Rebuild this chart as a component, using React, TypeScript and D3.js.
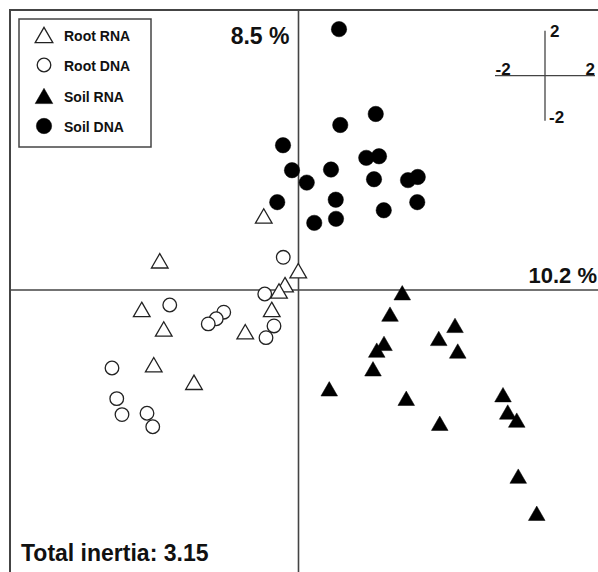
import React from "react";
import * as d3 from "d3";

const groups = ["Root RNA", "Root DNA", "Soil RNA", "Soil DNA"];

const rootRNA: [number, number][] = [
  [-1.39, 3.29], [-5.55, 1.3], [-0.01, 0.86], [-0.54, 0.24], [-0.78, -0.04],
  [-1.07, -0.86], [-6.27, -0.86], [-5.39, -1.73], [-2.13, -1.85], [-5.79, -3.32],
  [-4.18, -4.1],
];
const rootDNA: [number, number][] = [
  [-0.61, 1.45], [-1.35, -0.18], [-5.15, -0.67], [-2.99, -0.99], [-3.29, -1.28],
  [-3.61, -1.51], [-0.98, -1.6], [-1.3, -2.12], [-7.46, -3.47], [-7.27, -4.83],
  [-7.06, -5.54], [-6.06, -5.48], [-5.83, -6.08],
];
const soilRNA: [number, number][] = [
  [4.15, -0.12], [3.66, -1.07], [3.42, -2.37], [3.13, -2.67], [2.98, -3.5],
  [1.23, -4.39], [4.31, -4.81], [5.61, -2.15], [6.26, -1.57], [6.37, -2.71],
  [5.65, -5.92], [8.18, -4.65], [8.37, -5.42], [8.73, -5.78], [8.79, -8.27],
  [9.53, -9.92],
];
const soilDNA: [number, number][] = [
  [1.62, 11.59], [3.09, 7.82], [1.67, 7.33], [-0.62, 6.43], [2.71, 5.87],
  [3.22, 5.94], [-0.26, 5.32], [0.33, 4.77], [1.3, 5.35], [3.02, 4.92],
  [4.38, 4.88], [4.77, 5.02], [1.49, 4.01], [-0.85, 3.9], [3.41, 3.54],
  [4.75, 3.9], [0.63, 2.98], [1.5, 3.16],
];

const axis1Label = "10.2 %";
const axis2Label = "8.5 %";
const inertiaLabel = "Total inertia: 3.15";
const scaleTicks = ["2", "-2", "2", "-2"];

const W = 598;
const H = 572;
const FONT = "'Liberation Sans', Arial, sans-serif";

export default function App() {
  const x = d3.scaleLinear().domain([-11.54, 12.26]).range([10, 605]);
  const y = d3.scaleLinear().domain([12.44, -12.89]).range([10, 580]);

  const triPath = d3.symbol().type(d3.symbolTriangle).size(120)() as string;
  const triLegend = d3.symbol().type(d3.symbolTriangle).size(135)() as string;
  const triOff = 2.5;

  // scale bar (2 units each way)
  const sbx = d3.scaleLinear().domain([-2, 2]).range([495, 595]);
  const sby = d3.scaleLinear().domain([2, -2]).range([30.7, 120.7]);

  const styles = [
    { data: rootRNA, kind: "tri", fill: "white" },
    { data: rootDNA, kind: "circ", fill: "white" },
    { data: soilRNA, kind: "tri", fill: "black" },
    { data: soilDNA, kind: "circ", fill: "black" },
  ];

  const drawMark = (kind: string, fill: string, cx: number, cy: number, key: string, legend = false) => {
    if (kind === "tri") {
      return (
        <path
          key={key}
          d={legend ? triLegend : triPath}
          transform={`translate(${cx},${cy + triOff})`}
          fill={fill}
          stroke={fill === "white" ? "#222" : "black"}
          strokeWidth={fill === "white" ? 1.3 : 0.5}
          strokeLinejoin="miter"
        />
      );
    }
    return (
      <circle
        key={key}
        cx={cx}
        cy={cy}
        r={fill === "white" ? 6.8 : 7.7}
        fill={fill}
        stroke={fill === "white" ? "#222" : "black"}
        strokeWidth={fill === "white" ? 1.3 : 0.5}
      />
    );
  };

  const legendRows = [35, 65, 96, 126];

  return (
    <svg
      width={W}
      height={H}
      style={{ position: "absolute", left: 0, top: 0, background: "white" }}
      fontFamily={FONT}
    >
      {/* frame */}
      <rect x={10} y={10} width={620} height={600} fill="white" stroke="#444" strokeWidth={2} />
      {/* axes */}
      <line x1={x(0)} x2={x(0)} y1={10} y2={H} stroke="#444" strokeWidth={1.6} />
      <line x1={10} x2={W} y1={y(0)} y2={y(0)} stroke="#444" strokeWidth={1.6} />

      {/* points */}
      {styles.map((s, gi) =>
        s.data.map((d, i) => drawMark(s.kind, s.fill, x(d[0]), y(d[1]), `${gi}-${i}`))
      )}

      {/* axis labels */}
      <text x={289.5} y={44} textAnchor="end" fontSize={23} fontWeight="bold" fill="#111">
        {axis2Label}
      </text>
      <text x={597} y={283} textAnchor="end" fontSize={22} fontWeight="bold" fill="#111">
        {axis1Label}
      </text>
      <text x={21} y={561} fontSize={23} fontWeight="bold" fill="#111">
        {inertiaLabel}
      </text>

      {/* scale bar */}
      <line x1={sbx(0)} x2={sbx(0)} y1={sby(2)} y2={sby(-2)} stroke="#444" strokeWidth={1.3} />
      <line x1={sbx(-2)} x2={sbx(2)} y1={sby(0)} y2={sby(0)} stroke="#444" strokeWidth={1.3} />
      <text x={sbx(0) + 5} y={36.7} fontSize={17} fontWeight="bold" fill="#111">{scaleTicks[0]}</text>
      <text x={sbx(-2) + 0.5} y={75} fontSize={17} fontWeight="bold" fill="#111">{scaleTicks[1]}</text>
      <text x={sbx(2)} y={75} textAnchor="end" fontSize={17} fontWeight="bold" fill="#111">{scaleTicks[2]}</text>
      <text x={sbx(0) + 4} y={123.3} fontSize={17} fontWeight="bold" fill="#111">{scaleTicks[3]}</text>

      {/* legend */}
      <rect x={19} y={19} width={132} height={128} fill="white" stroke="#444" strokeWidth={1.5} />
      {groups.map((g, i) => (
        <g key={g}>
          {drawMark(styles[i].kind, styles[i].fill, 44, legendRows[i], `lg-${i}`, true)}
          <text x={64} y={legendRows[i] + 6} fontSize={14} fontWeight="bold" fill="#111">
            {g}
          </text>
        </g>
      ))}
    </svg>
  );
}
